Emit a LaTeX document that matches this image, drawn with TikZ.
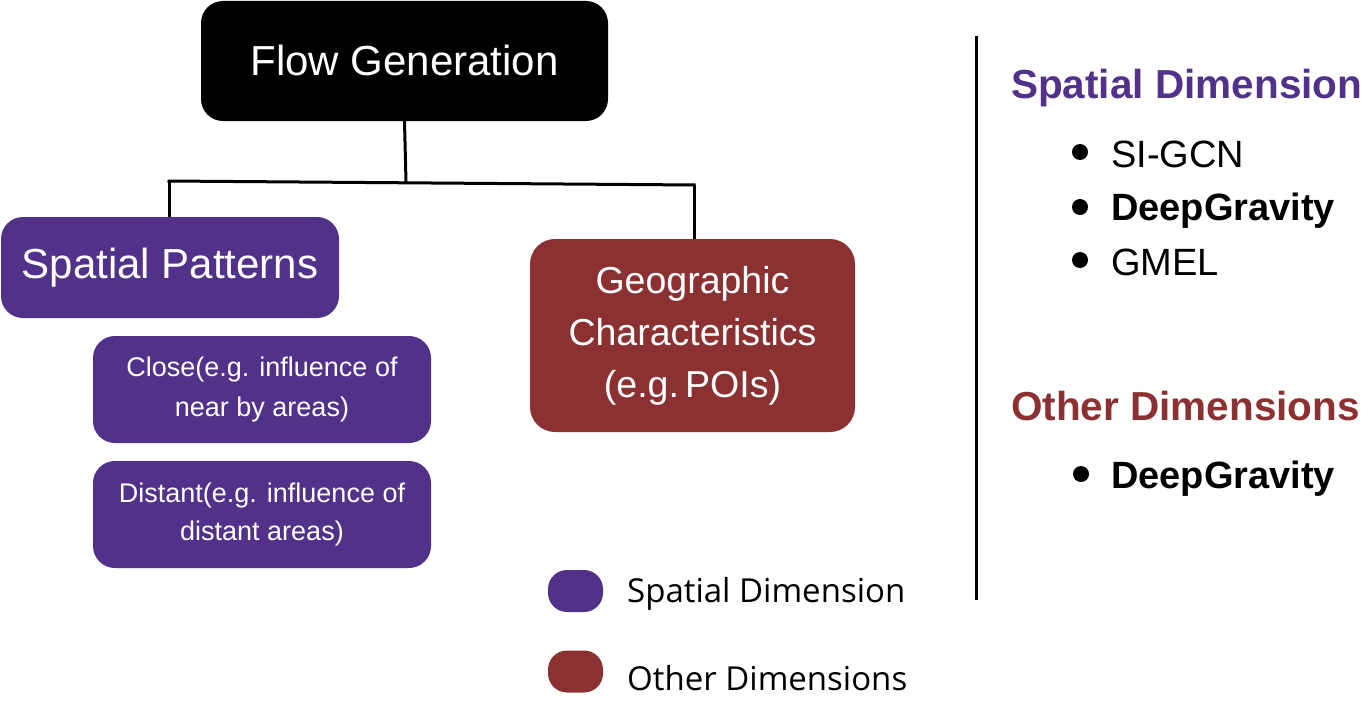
\documentclass[tikz,border=0pt]{standalone}
\usepackage{fontspec}
\setmainfont{Liberation Sans}
\newfontfamily\legendfont{Open Sans}
\definecolor{spur}{RGB}{81,49,138}
\definecolor{smar}{RGB}{139,49,50}
\begin{document}
\begin{tikzpicture}[x=1pt,y=-1pt,
  box/.style={rounded corners=22pt, text=white, align=center, inner sep=0pt},
  conn/.style={line width=3pt, black},
  blob/.style={rounded corners=19pt, minimum width=55pt, minimum height=42pt, inner sep=0pt},
  legtext/.style={anchor=base west, inner sep=0pt, font=\legendfont\fontsize{33}{38}\selectfont},
  head/.style={anchor=base west, inner sep=0pt, font=\bfseries\fontsize{40.5}{46}\selectfont},
  item/.style={anchor=base west, inner sep=0pt, font=\fontsize{38}{44}\selectfont},
  bitem/.style={anchor=base west, inner sep=0pt, font=\bfseries\fontsize{38}{44}\selectfont},
  dot/.style={circle, fill=black, minimum size=16pt, inner sep=0pt}]
\useasboundingbox (0,0) rectangle (1362,701);
\fill[white] (0,0) rectangle (1362,701);

% main boxes
\node[box, fill=black, minimum width=407pt, minimum height=120pt,
      font=\fontsize{42}{50}\selectfont] (fg) at (404.5,61) {\raisebox{2pt}{Flow Generation}};
\node[box, fill=spur, minimum width=338pt, minimum height=101pt,
      font=\fontsize{42}{50}\selectfont] (sp) at (170,267.5) {Spatial Patterns};
\node[box, fill=smar, minimum width=325pt, minimum height=193pt, rounded corners=25pt,
      font=\fontsize{37.5}{52}\selectfont] (geo) at (692.5,335.5) {Geographic\\Characteristics\\(e.g.\,POIs)};
\node[box, fill=spur, minimum width=338pt, minimum height=107pt,
      font=\fontsize{27}{40}\selectfont] (close) at (262,389.5) {Close(e.g. influence of\\near by areas)};
\node[box, fill=spur, minimum width=338pt, minimum height=107pt,
      font=\fontsize{27}{38}\selectfont] (dist) at (262,514.5) {Distant(e.g. influence of\\distant areas)};

% connectors
\coordinate (j) at (406,182);
\coordinate (jl) at (169,181);
\coordinate (jr) at (694,185);
\draw[conn] (fg.south) -- (j);
\draw[conn] ([xshift=-1.5pt]jl) -- ([xshift=1.5pt]jr);
\draw[conn] (jl) -- (jl |- sp.north);
\draw[conn] (jr) -- (jr |- geo.north);

% legend
\node[blob, fill=spur] (lb1) at (575.5,591) {};
\node[blob, fill=smar] (lb2) at (575.5,671.5) {};
\node[legtext] (lt1) at (627,602) {Spatial Dimension};
\node[legtext] (lt2) at (627,690) {Other Dimensions};

% divider
\coordinate (d1) at (976,36);
\coordinate (d2) at (976,600);
\draw[conn] (d1) -- (d2);

% right column
\node[head, text=spur] (h1) at (1011,98) {Spatial Dimension};
\node[dot] (b1) at (1080,152) {};
\node[item] (i1) at (1111,167) {SI-GCN};
\node[dot] (b2) at (1080,207) {};
\node[bitem] (i2) at (1111,220) {DeepGravity};
\node[dot] (b3) at (1080,260) {};
\node[item] (i3) at (1111,275) {GMEL};

\node[head, text=smar] (h2) at (1011,420) {Other Dimensions};
\node[dot] (b4) at (1081,474) {};
\node[bitem] (i4) at (1111,488) {DeepGravity};
\end{tikzpicture}
\end{document}
